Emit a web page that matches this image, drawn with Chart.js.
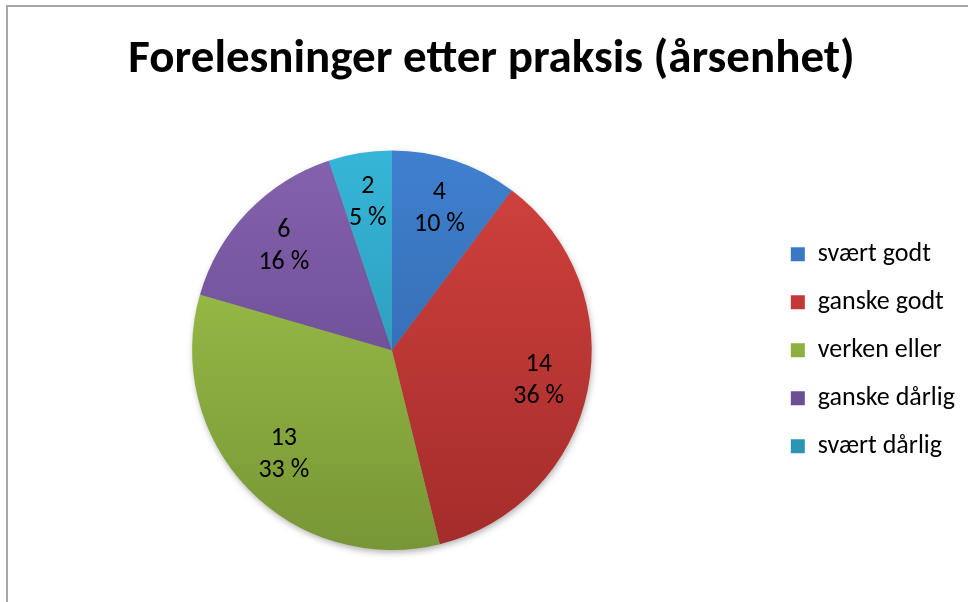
<!DOCTYPE html>
<html>
<head>
<meta charset="utf-8">
<script src="https://cdn.jsdelivr.net/npm/chart.js@4.4.1/dist/chart.umd.min.js"></script>
<style>
    html, body { margin: 0; padding: 0; background: #ffffff; overflow: hidden; }
    #frame {
        position: absolute; left: 6px; top: 5px;
        width: 980px; height: 620px;
        border-left: 2px solid #a6a6a6; border-top: 2px solid #a6a6a6;
    }
    #chart-container { position: absolute; left: 0; top: 0; width: 968px; height: 602px; }
</style>
</head>
<body>
<div id="frame"></div>
<div id="chart-container"><canvas id="chart-pie" width="968" height="602"></canvas></div>
<script>
const chartTitle = 'Forelesninger etter praksis (årsenhet)';
const categories = ['svært godt', 'ganske godt', 'verken eller', 'ganske dårlig', 'svært dårlig'];
const counts     = [4, 14, 13, 6, 2];
const percents   = [10, 36, 33, 16, 5];
const topColors    = ['#3f80cf', '#d2423f', '#a3c94c', '#8562ad', '#35b6d8'];
const bottomColors = ['#2f5f9e', '#a42c2a', '#789636', '#5d4286', '#2889a8'];

const FONT = "Calibri, Carlito, Lato, 'Open Sans', sans-serif";
const LEGEND_EXTRA_WIDTH = 3;
// -------------------------------------------------------------------------------------------
function sliceGradient(context)
{
    const chart = context.chart;
    const area = chart.chartArea;
    if (!area) {
        return topColors[context.dataIndex];
    }
    const g = chart.ctx.createLinearGradient(0, area.top, 0, area.bottom);
    g.addColorStop(0, topColors[context.dataIndex]);
    g.addColorStop(1, bottomColors[context.dataIndex]);
    return g;
}
// -------------------------------------------------------------------------------------------
// widen the legend box so the pie sits further left of the title centre
const legendSpacer = {
    id: 'legendSpacer',
    beforeInit(chart) {
        const originalFit = chart.legend.fit;
        chart.legend.fit = function () {
            originalFit.bind(chart.legend)();
            this.width += LEGEND_EXTRA_WIDTH;
        };
    }
};
// -------------------------------------------------------------------------------------------
const pieShadow = {
    id: 'pieShadow',
    beforeDatasetsDraw(chart) {
        const arc = chart.getDatasetMeta(0).data[0];
        if (!arc) return;
        const ctx = chart.ctx;
        ctx.save();
        ctx.shadowColor = 'rgba(0,0,0,0.35)';
        ctx.shadowBlur = 7;
        ctx.shadowOffsetX = 1;
        ctx.shadowOffsetY = 3;
        ctx.fillStyle = '#888888';
        ctx.beginPath();
        ctx.arc(arc.x, arc.y, arc.outerRadius - 1, 0, Math.PI * 2);
        ctx.fill();
        ctx.restore();
    }
};
// -------------------------------------------------------------------------------------------
const sliceLabels = {
    id: 'sliceLabels',
    afterDatasetsDraw(chart) {
        const ctx = chart.ctx;
        ctx.save();
        ctx.font = '26px ' + FONT;
        ctx.fillStyle = '#000000';
        ctx.textAlign = 'center';
        ctx.textBaseline = 'middle';
        chart.getDatasetMeta(0).data.forEach((arc, index) => {
            const mid = (arc.startAngle + arc.endAngle) / 2;
            const r = arc.outerRadius * 0.75;
            const x = arc.x + Math.cos(mid) * r;
            const y = arc.y + Math.sin(mid) * r;
            ctx.fillText(String(counts[index]), x, y - 16);
            ctx.fillText(percents[index] + ' %', x, y + 16);
        });
        ctx.restore();
    }
};
// -------------------------------------------------------------------------------------------
let data = {
    labels: categories,
    datasets: [{
        data: counts,
        backgroundColor: sliceGradient,
        borderWidth: 0
    }]
};

let options = {
    responsive: false,
    animation: false,
    layout: {
        padding: { left: 15, right: 0, top: 0, bottom: 52 }
    },
    plugins: {
        title: {
            display: true,
            text: chartTitle,
            color: '#000000',
            font: { family: FONT, size: 47, weight: 'bold', lineHeight: 1.2 },
            padding: { top: 32, bottom: 62 }
        },
        legend: {
            display: true,
            position: 'right',
            align: 'center',
            fullSize: false,
            labels: {
                color: '#000000',
                font: { family: FONT, size: 26 },
                boxWidth: 14,
                boxHeight: 14,
                padding: 22
            }
        },
        tooltip: { enabled: false }
    }
};

new Chart('chart-pie', {
    type: 'pie',
    plugins: [legendSpacer, pieShadow, sliceLabels],
    data: data,
    options: options
});
</script>
</body>
</html>
